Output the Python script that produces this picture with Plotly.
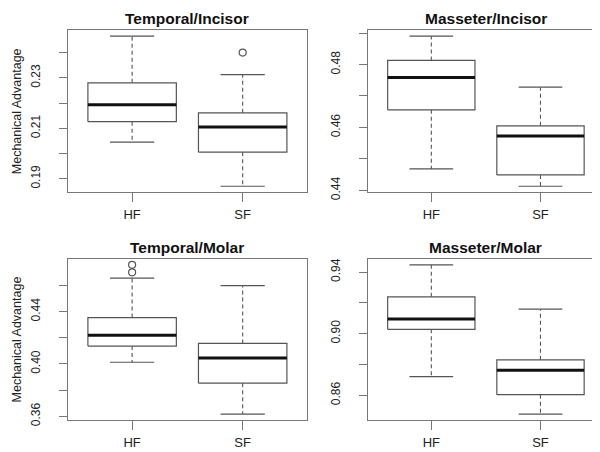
import plotly.graph_objects as go

groups = ["HF", "SF"]

# Temporal/Incisor
ti_low = [0.2045, 0.1870]
ti_q1 = [0.2126, 0.2005]
ti_med = [0.2193, 0.2105]
ti_q3 = [0.2280, 0.2161]
ti_up = [0.2465, 0.2313]
ti_out = [[], [0.2400]]

# Masseter/Incisor
mi_low = [0.4468, 0.4413]
mi_q1 = [0.4656, 0.4449]
mi_med = [0.4759, 0.4573]
mi_q3 = [0.4813, 0.4605]
mi_up = [0.4890, 0.4728]
mi_out = [[], []]

# Temporal/Molar
tm_low = [0.4013, 0.3617]
tm_q1 = [0.4137, 0.3853]
tm_med = [0.4219, 0.4045]
tm_q3 = [0.4355, 0.4157]
tm_up = [0.4657, 0.4599]
tm_out = [[0.4701, 0.4758], []]

# Masseter/Molar
mm_low = [0.8721, 0.8478]
mm_q1 = [0.9028, 0.8604]
mm_med = [0.9095, 0.8762]
mm_q3 = [0.9239, 0.8830]
mm_up = [0.9447, 0.9159]
mm_out = [[], []]

titles = ["Temporal/Incisor", "Masseter/Incisor", "Temporal/Molar", "Masseter/Molar"]
tick_vals = [
    [0.19, 0.20, 0.21, 0.22, 0.23, 0.24],
    [0.44, 0.45, 0.46, 0.47, 0.48, 0.49],
    [0.36, 0.38, 0.40, 0.42, 0.44, 0.46],
    [0.86, 0.88, 0.90, 0.92, 0.94],
]
tick_text = [
    ["0.19", "", "0.21", "", "0.23", ""],
    ["0.44", "", "0.46", "", "0.48", ""],
    ["0.36", "", "0.40", "", "0.44", ""],
    ["0.86", "", "0.90", "", "0.94"],
]

panels = [
    (ti_low, ti_q1, ti_med, ti_q3, ti_up, ti_out),
    (mi_low, mi_q1, mi_med, mi_q3, mi_up, mi_out),
    (tm_low, tm_q1, tm_med, tm_q3, tm_up, tm_out),
    (mm_low, mm_q1, mm_med, mm_q3, mm_up, mm_out),
]

xdom = [[0.100, 0.498], [0.600, 0.993], [0.100, 0.498], [0.600, 0.993]]
ydom = [[0.585, 0.950], [0.585, 0.950], [0.072, 0.435], [0.072, 0.435]]

BOXC = "#555555"
FRAME = "#777777"
FONT = "Liberation Sans, Arial, sans-serif"

fig = go.Figure()

for p, (low, q1, med, q3, up, out) in enumerate(panels):
    xa = "x" if p == 0 else f"x{p + 1}"
    ya = "y" if p == 0 else f"y{p + 1}"
    for i in range(len(groups)):
        c = i + 1
        # box
        fig.add_trace(go.Scatter(
            x=[c - 0.4, c + 0.4, c + 0.4, c - 0.4, c - 0.4],
            y=[q1[i], q1[i], q3[i], q3[i], q1[i]],
            mode="lines", line=dict(color=BOXC, width=1.2),
            xaxis=xa, yaxis=ya, showlegend=False, hoverinfo="skip"))
        # whiskers dashed
        fig.add_trace(go.Scatter(
            x=[c, c, None, c, c],
            y=[q3[i], up[i], None, q1[i], low[i]],
            mode="lines", line=dict(color=BOXC, width=1.1, dash="4px,3px"),
            xaxis=xa, yaxis=ya, showlegend=False, hoverinfo="skip"))
        # caps
        fig.add_trace(go.Scatter(
            x=[c - 0.2, c + 0.2, None, c - 0.2, c + 0.2],
            y=[up[i], up[i], None, low[i], low[i]],
            mode="lines", line=dict(color=BOXC, width=1.2),
            xaxis=xa, yaxis=ya, showlegend=False, hoverinfo="skip"))
        # median
        fig.add_trace(go.Scatter(
            x=[c - 0.4, c + 0.4], y=[med[i], med[i]],
            mode="lines", line=dict(color="#111111", width=3),
            xaxis=xa, yaxis=ya, showlegend=False, hoverinfo="skip"))
        if out[i]:
            fig.add_trace(go.Scatter(
                x=[c] * len(out[i]), y=out[i], mode="markers",
                marker=dict(symbol="circle-open", size=7, color=BOXC, line=dict(width=1.2)),
                xaxis=xa, yaxis=ya, showlegend=False, hoverinfo="skip"))

    vals = low + up + [v for o in out for v in o]
    lo, hi = min(vals), max(vals)
    pad = (hi - lo) * 0.04

    axis_common = dict(showline=True, mirror=True, linecolor=FRAME, linewidth=1,
                       showgrid=False, zeroline=False, ticks="outside",
                       tickcolor=FRAME, tickwidth=1)
    fig.update_layout(**{
        ("xaxis" if p == 0 else f"xaxis{p + 1}"): dict(
            axis_common, domain=xdom[p], range=[0.42, 2.58],
            tickvals=[1, 2], ticktext=groups, ticklen=9,
            ticklabelstandoff=1, anchor=ya,
            tickfont=dict(family=FONT, size=13, color="#222222")),
        ("yaxis" if p == 0 else f"yaxis{p + 1}"): dict(
            axis_common, domain=ydom[p], range=[lo - pad, hi + pad],
            tickvals=tick_vals[p], ticktext=tick_text[p], ticklen=8,
            tickangle=-90, ticklabelstandoff=14, anchor=xa,
            tickfont=dict(family=FONT, size=12, color="#222222")),
    })

    fig.add_annotation(
        text=f"<b>{titles[p]}</b>", xref="paper", yref="paper",
        x=(xdom[p][0] + xdom[p][1]) / 2, y=ydom[p][1] + 0.0495,
        xanchor="center", yanchor="top", showarrow=False,
        font=dict(family=FONT, size=15.5, color="#111111"))

for p in (0, 2):
    fig.add_annotation(
        text="Mechanical Advantage", xref="paper", yref="paper",
        x=0.015, y=(ydom[p][0] + ydom[p][1]) / 2, textangle=-90,
        xanchor="center", yanchor="middle", showarrow=False,
        font=dict(family=FONT, size=12.5, color="#222222"))

fig.update_layout(width=600, height=452, margin=dict(l=0, r=0, t=0, b=0),
                  plot_bgcolor="white", paper_bgcolor="white")

fig.write_html("out.html")
